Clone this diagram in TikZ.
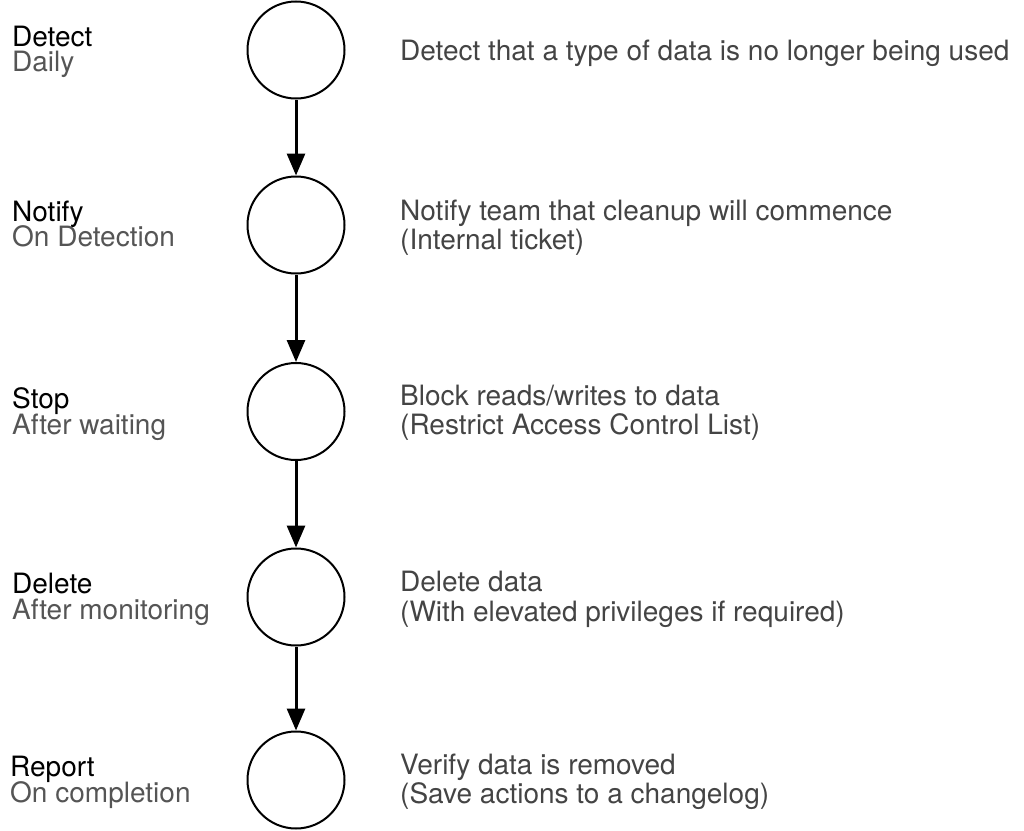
\documentclass[tikz,border=0pt]{standalone}
\usepackage{fontspec}
\setmainfont{TeX Gyre Heros}
\usetikzlibrary{arrows.meta}
\definecolor{subgray}{HTML}{555555}
\definecolor{descgray}{HTML}{444444}
\tikzset{
  stepcircle/.style={circle, draw=black, line width=2bp, inner sep=0pt, minimum size=97bp},
  flowarrow/.style={line width=3bp, -{Triangle[length=22bp, width=18bp]}},
  titletext/.style={anchor=base west, inner sep=0pt, text=black, font=\fontsize{28.1}{29}\selectfont},
  subtext/.style={anchor=base west, inner sep=0pt, text=subgray, font=\fontsize{28.1}{29}\selectfont},
  desctext/.style={anchor=base west, inner sep=0pt, text=descgray, font=\fontsize{28.1}{29}\selectfont}
}
\begin{document}
\begin{tikzpicture}[x=1bp, y=-1bp]
\useasboundingbox (0,0) rectangle (1024,831);
% circles
\node[stepcircle] (c1) at (296,50) {};
\node[stepcircle] (c2) at (296,225) {};
\node[stepcircle] (c3) at (296,411.5) {};
\node[stepcircle] (c4) at (296,597) {};
\node[stepcircle] (c5) at (296,780) {};
% arrows
\draw[flowarrow] (c1.south) -- (c2.north);
\draw[flowarrow] (c2.south) -- (c3.north);
\draw[flowarrow] (c3.south) -- (c4.north);
\draw[flowarrow] (c4.south) -- (c5.north);
% left labels
\node[titletext] (t1) at (12,46.5) {Detect};
\node[subtext] (s1) at (12,71.5) {Daily};
\node[titletext] (t2) at (12,221.5) {Notify};
\node[subtext] (s2) at (12,246.5) {On Detection};
\node[titletext] (t3) at (12,408) {Stop};
\node[subtext] (s3) at (12,434) {After waiting};
\node[titletext] (t4) at (12,593.5) {Delete};
\node[subtext] (s4) at (12,619) {After monitoring};
\node[titletext] (t5) at (10,776.5) {Report};
\node[subtext] (s5) at (10,802) {On completion};
% right descriptions
\node[desctext] (d1) at (400,60.5) {Detect that a type of data is no longer being used};
\node[desctext] (d2a) at (400,220) {Notify team that cleanup will commence};
\node[desctext] (d2b) at (400,249.5) {(Internal ticket)};
\node[desctext] (d3a) at (400,405.5) {Block reads/writes to data};
\node[desctext] (d3b) at (400,434) {(Restrict Access Control List)};
\node[desctext] (d4a) at (400,591) {Delete data};
\node[desctext] (d4b) at (400,621) {(With elevated privileges if required)};
\node[desctext] (d5a) at (400,774.5) {Verify data is removed};
\node[desctext] (d5b) at (400,803.5) {(Save actions to a changelog)};
\end{tikzpicture}
\end{document}
